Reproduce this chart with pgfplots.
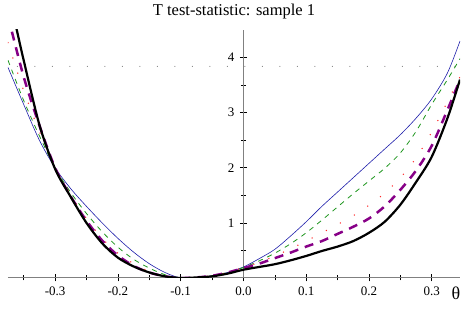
\documentclass[border=0pt]{standalone}
\usepackage{pgfplots}
\pgfplotsset{compat=1.18}
\usepackage{fontspec}
\setmainfont{Liberation Serif}
\definecolor{cblue}{RGB}{30,30,170}
\definecolor{cgreen}{RGB}{30,150,30}
\definecolor{cred}{RGB}{255,40,40}
\definecolor{cpurple}{RGB}{135,0,135}
\begin{document}
\begin{tikzpicture}
\path[use as bounding box] (-8pt,-34pt) rectangle (461pt,278pt);
\begin{axis}[
  scale only axis, width=452pt, height=248pt,
  xmin=-0.375, xmax=0.345, ymin=0, ymax=4.5,
  axis lines=middle,
  hide obscured x ticks=false,
  axis line style={-, draw=gray, line width=1pt},
  /pgf/number format/assume math mode=true,
  xtick={-0.3,-0.2,-0.1,0,0.1,0.2,0.3},
  xticklabels={-0.3,-0.2,-0.1,0.0,0.1,0.2,0.3},
  minor xtick={-0.35,-0.25,-0.15,-0.05,0.05,0.15,0.25},
  ytick={1,2,3,4},
  minor ytick={0.5,1.5,2.5,3.5},
  tick style={black, line width=0.6pt},
  major tick length=7pt, minor tick length=5pt,
  tick align=center,
  tick label style={font=\fontsize{13}{14}\selectfont},
  xticklabel style={anchor=north, yshift=-2pt},
  yticklabel style={anchor=east, xshift=-2pt},
  title={T test-statistic: sample 1},
  title style={font=\fontsize{16.5}{19}\selectfont, at={(rel axis cs:0.5,1)}, anchor=south, yshift=1pt},
  clip=true,
]
\addplot[gray, line width=1.1pt, line cap=round, dash pattern=on 0pt off 17.5pt] coordinates {(-0.36,3.84) (0.345,3.84)};
% blue thin solid
\addplot[cblue, line width=0.6pt, smooth] coordinates {
(-0.375,3.82) (-0.35,3.15) (-0.325,2.5) (-0.3,2.0) (-0.275,1.62) (-0.25,1.3) (-0.225,1.0) (-0.2,0.72) (-0.175,0.47) (-0.15,0.26) (-0.125,0.1) (-0.1,0)
(-0.075,0.01) (-0.05,0.04) (-0.025,0.1) (0,0.2) (0.025,0.35) (0.05,0.52) (0.075,0.76) (0.1,1.02) (0.125,1.3) (0.15,1.56) (0.175,1.82) (0.2,2.08) (0.225,2.34) (0.25,2.6) (0.275,2.9) (0.3,3.25) (0.325,3.72) (0.345,4.3)};
% green dashed
\addplot[cgreen, line width=0.8pt, dash pattern=on 5pt off 5pt, smooth] coordinates {
(-0.375,3.95) (-0.35,3.22) (-0.325,2.58) (-0.3,2.0) (-0.275,1.55) (-0.25,1.17) (-0.225,0.84) (-0.2,0.56) (-0.175,0.34) (-0.15,0.18) (-0.125,0.06) (-0.1,0)
(-0.075,0.01) (-0.05,0.04) (-0.025,0.1) (0,0.19) (0.025,0.31) (0.05,0.45) (0.075,0.62) (0.1,0.82) (0.125,1.05) (0.15,1.29) (0.175,1.53) (0.2,1.76) (0.225,1.99) (0.25,2.27) (0.275,2.66) (0.3,3.15) (0.325,3.6) (0.345,3.98)};
% red dotted
\addplot[cred, line width=1.5pt, line cap=round, dash pattern=on 0pt off 16pt, smooth] coordinates {
(-0.375,4.27) (-0.35,3.4) (-0.325,2.66) (-0.3,2.0) (-0.275,1.5) (-0.25,1.08) (-0.225,0.72) (-0.2,0.45) (-0.175,0.26) (-0.15,0.12) (-0.125,0.035) (-0.1,0)
(-0.075,0.01) (-0.05,0.04) (-0.025,0.1) (0,0.19) (0.025,0.28) (0.05,0.4) (0.075,0.53) (0.1,0.67) (0.125,0.82) (0.15,0.97) (0.175,1.13) (0.2,1.32) (0.225,1.54) (0.25,1.82) (0.275,2.18) (0.3,2.65) (0.325,3.2) (0.345,3.65)};
% purple thick dashed
\addplot[cpurple, line width=2.5pt, dash pattern=on 9pt off 7pt, smooth] coordinates {
(-0.375,4.75) (-0.35,3.65) (-0.325,2.77) (-0.3,2.0) (-0.275,1.48) (-0.25,1.04) (-0.225,0.68) (-0.2,0.41) (-0.175,0.22) (-0.15,0.1) (-0.125,0.03) (-0.1,0)
(-0.075,0.01) (-0.05,0.04) (-0.025,0.1) (0,0.18) (0.025,0.26) (0.05,0.36) (0.075,0.46) (0.1,0.57) (0.125,0.67) (0.15,0.8) (0.175,0.93) (0.2,1.08) (0.225,1.3) (0.25,1.6) (0.275,1.95) (0.3,2.4) (0.325,3.05) (0.345,3.6)};
% black thick solid
\addplot[black, line width=2.2pt, smooth] coordinates {
(-0.375,5.2) (-0.362,4.55) (-0.35,3.95) (-0.325,2.78) (-0.3,1.98) (-0.275,1.47) (-0.25,1.0) (-0.225,0.63) (-0.2,0.37) (-0.175,0.21) (-0.15,0.1) (-0.125,0.03) (-0.1,0)
(-0.075,0.01) (-0.05,0.03) (-0.025,0.08) (0,0.15) (0.025,0.2) (0.05,0.25) (0.075,0.32) (0.1,0.4) (0.125,0.49) (0.15,0.57) (0.175,0.67) (0.2,0.82) (0.225,1.02) (0.25,1.33) (0.275,1.74) (0.3,2.2) (0.325,2.9) (0.345,3.6)};
\end{axis}
\node[inner sep=0pt, anchor=north, font=\fontsize{18}{18}\selectfont] at (448pt,-9pt) {θ};
\end{tikzpicture}
\end{document}
